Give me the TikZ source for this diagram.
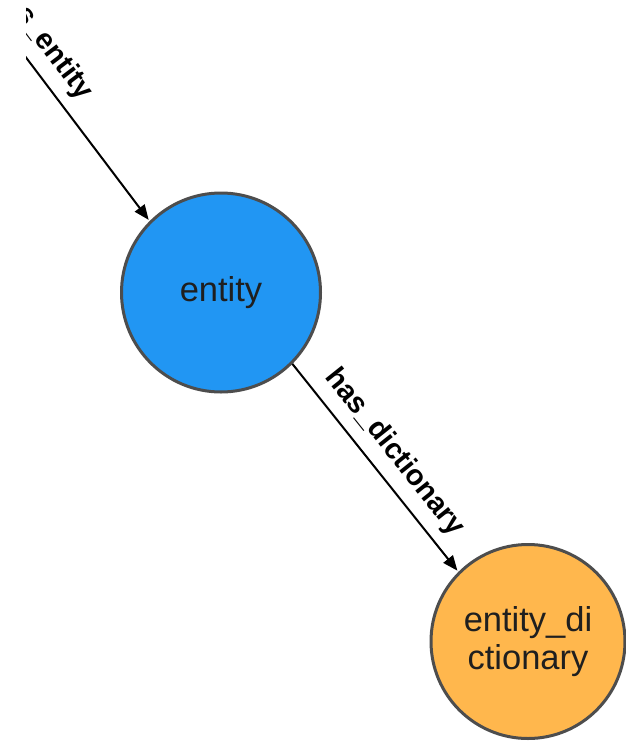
\documentclass[tikz,border=0pt]{standalone}
\usepackage{fontspec}
\setmainfont{Liberation Sans}
\usetikzlibrary{arrows.meta}
\definecolor{entityblue}{RGB}{33,150,243}
\definecolor{dictorange}{RGB}{255,183,77}
\definecolor{rim}{RGB}{77,77,77}
\begin{document}
\begin{tikzpicture}[x=1pt,y=-1pt,
  vertex/.style={circle,draw=rim,line width=3pt,text=black!88,
    font=\fontsize{34.5}{38}\selectfont,align=center,inner sep=0pt},
  rel/.style={line width=2pt,shorten >=1.5pt,-{Triangle[length=15pt,width=12pt]}},
  rellabel/.style={sloped,above=8pt,font=\bfseries\fontsize{29}{31}\selectfont,inner sep=2pt}]
\useasboundingbox (0,0) rectangle (626,742);
\begin{scope}
  \clip (26,0) rectangle (626,742);
  % nodes
  \node[vertex,fill=entityblue,minimum size=199pt] (entity) at (221,292.5) {entity};
  \node[vertex,fill=dictorange,minimum size=194pt] (dict) at (528,641.5) {entity\_di\\ctionary};
  % incoming relation from outside the view
  \coordinate (src) at (-102,-112);
  \draw[rel] (src) -- node[rellabel]{has\_entity} (entity.135);
  \draw[rel] (entity.-45) -- node[rellabel]{has\_dictionary} (dict.135);
\end{scope}
\end{tikzpicture}
\end{document}
